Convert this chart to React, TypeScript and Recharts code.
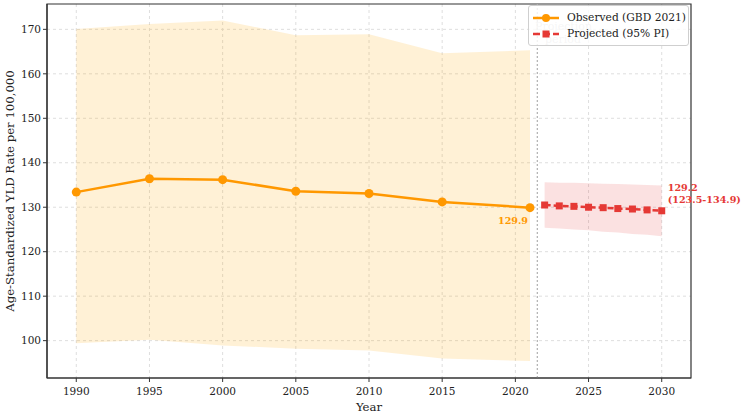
import React from 'react';
import {
  ComposedChart, Line, Area, XAxis, YAxis, CartesianGrid, ReferenceLine, ReferenceArea,
} from 'recharts';

const obsYears = [1990, 1995, 2000, 2005, 2010, 2015, 2021];
const obsRate = [133.4, 136.4, 136.2, 133.6, 133.1, 131.2, 129.9];
const obsLower = [99.4, 100.2, 98.9, 98.2, 97.8, 96.0, 95.4];
const obsUpper = [170.1, 171.2, 172.0, 168.7, 168.9, 164.6, 165.3];

const projYears = [2022, 2023, 2024, 2025, 2026, 2027, 2028, 2029, 2030];
const projRate = [130.5, 130.3, 130.2, 130.0, 129.9, 129.7, 129.6, 129.4, 129.2];
const projLower = [125.4, 125.2, 125.0, 124.8, 124.5, 124.3, 124.0, 123.8, 123.5];
const projUpper = [135.6, 135.5, 135.5, 135.4, 135.3, 135.2, 135.1, 135.0, 134.9];

const xTicks = [1990, 1995, 2000, 2005, 2010, 2015, 2020, 2025, 2030];
const yTicks = [100, 110, 120, 130, 140, 150, 160, 170];
const xDomain = [1988, 2032];
const yDomain = [91.6, 175.7];
const projectionStart = 2021.5;

const obsData = obsYears.map((year, i) => ({ year, rate: obsRate[i], band: [obsLower[i], obsUpper[i]] }));
const projData = projYears.map((year, i) => ({ year, rate: projRate[i], band: [projLower[i], projUpper[i]] }));

const FONT = '"DejaVu Serif", serif';
const ORANGE = '#ff9800';
const RED = '#e53935';
const AXIS = '#333';

const SquareDot = (props: any) => {
  const { cx, cy } = props;
  if (cx == null || cy == null) return null;
  return <rect x={cx - 3.5} y={cy - 3.5} width={7} height={7} fill={RED} />;
};

const obsLabel = (props: any) => {
  const { x, y, index } = props;
  if (index !== obsData.length - 1) return null;
  return (
    <text x={x - 2} y={y + 16} textAnchor="end" fill={ORANGE} fontSize={9.6} fontWeight="bold" fontFamily={FONT}>
      {obsRate[obsRate.length - 1].toFixed(1)}
    </text>
  );
};

const projLabel = (props: any) => {
  const { x, y, index } = props;
  if (index !== projData.length - 1) return null;
  const n = projData.length - 1;
  return (
    <text x={x + 6} y={y - 20} fill={RED} fontSize={9.6} fontWeight="bold" fontFamily={FONT}>
      <tspan x={x + 6}>{projRate[n].toFixed(1)}</tspan>
      <tspan x={x + 6} dy={12}>({projLower[n].toFixed(1)}-{projUpper[n].toFixed(1)})</tspan>
    </text>
  );
};

export default function App() {
  return (
    <div style={{ position: 'absolute', left: 0, top: 0, width: 743, height: 414, background: '#fff', fontFamily: FONT }}>
      <ComposedChart width={743} height={414} margin={{ top: 4, right: 52, bottom: 0, left: 0 }}>
        <CartesianGrid stroke="#dedede" strokeDasharray="3 3" verticalValues={xTicks} horizontalValues={yTicks} />
        <XAxis
          dataKey="year"
          type="number"
          domain={xDomain}
          ticks={xTicks}
          allowDataOverflow
          height={36}
          tick={{ fill: '#222', fontSize: 10.5, fontFamily: FONT }}
          tickLine={{ stroke: AXIS }}
          axisLine={{ stroke: AXIS, strokeWidth: 1.2 }}
          tickSize={4}
          tickMargin={6}
          label={{ value: 'Year', position: 'insideBottom', offset: 3, fill: '#222', fontSize: 11.7, fontFamily: FONT }}
        />
        <YAxis
          type="number"
          domain={yDomain}
          ticks={yTicks}
          allowDataOverflow
          width={47}
          tick={{ fill: '#222', fontSize: 10.5, fontFamily: FONT }}
          tickLine={{ stroke: AXIS }}
          axisLine={{ stroke: AXIS, strokeWidth: 1.2 }}
          tickSize={4}
          label={{
            value: 'Age-Standardized YLD Rate per 100,000',
            angle: -90,
            position: 'insideLeft',
            offset: 10,
            fill: '#222',
            fontSize: 11.7,
            fontFamily: FONT,
            style: { textAnchor: 'middle' },
          }}
        />
        <ReferenceArea
          x1={xDomain[0]} x2={xDomain[1]} y1={yDomain[0]} y2={yDomain[1]}
          fill="none" fillOpacity={0} stroke={AXIS} strokeWidth={1.2} ifOverflow="visible"
        />
        <Area
          data={obsData}
          dataKey="band"
          type="linear"
          stroke="none"
          fill="#ffa500"
          fillOpacity={0.16}
          isAnimationActive={false}
          activeDot={false}
        />
        <Area
          data={projData}
          dataKey="band"
          type="linear"
          stroke="none"
          fill={RED}
          fillOpacity={0.15}
          isAnimationActive={false}
          activeDot={false}
        />
        <ReferenceLine x={projectionStart} stroke="#b0b0b0" strokeWidth={1.2} strokeDasharray="2 2" />
        <Line
          data={obsData}
          dataKey="rate"
          type="linear"
          stroke={ORANGE}
          strokeWidth={2.5}
          dot={{ r: 4.5, fill: ORANGE, stroke: ORANGE, strokeWidth: 0 }}
          activeDot={false}
          isAnimationActive={false}
          label={obsLabel}
        />
        <Line
          data={projData}
          dataKey="rate"
          type="linear"
          stroke={RED}
          strokeWidth={2.5}
          strokeDasharray="6 3"
          dot={<SquareDot />}
          activeDot={false}
          isAnimationActive={false}
          label={projLabel}
        />
      </ComposedChart>
      <div style={{ position: 'absolute', left: 535, top: 20, color: '#c8c8c8', fontSize: 11, lineHeight: '13px', textAlign: 'center', width: 56 }}>
        Projection<br />period
      </div>
      <div
        style={{
          position: 'absolute', left: 528, top: 5, width: 161, height: 41,
          background: 'rgba(255,255,255,0.82)', border: '1px solid #cfcfcf', borderRadius: 3,
          fontSize: 10.7, color: '#222', boxSizing: 'border-box',
        }}
      >
        <div style={{ position: 'absolute', left: 4, top: 4, display: 'flex', alignItems: 'center', height: 15 }}>
          <svg width={26} height={10} style={{ marginRight: 8 }}>
            <line x1={0} y1={5} x2={26} y2={5} stroke={ORANGE} strokeWidth={2.5} />
            <circle cx={13} cy={5} r={4} fill={ORANGE} />
          </svg>
          <span style={{ whiteSpace: 'nowrap' }}>Observed (GBD 2021)</span>
        </div>
        <div style={{ position: 'absolute', left: 4, top: 20, display: 'flex', alignItems: 'center', height: 15 }}>
          <svg width={26} height={10} style={{ marginRight: 8 }}>
            <line x1={0} y1={5} x2={26} y2={5} stroke={RED} strokeWidth={2.5} strokeDasharray="7 3" />
            <rect x={9.5} y={1.5} width={7} height={7} fill={RED} />
          </svg>
          <span style={{ whiteSpace: 'nowrap' }}>Projected (95% PI)</span>
        </div>
      </div>
    </div>
  );
}
